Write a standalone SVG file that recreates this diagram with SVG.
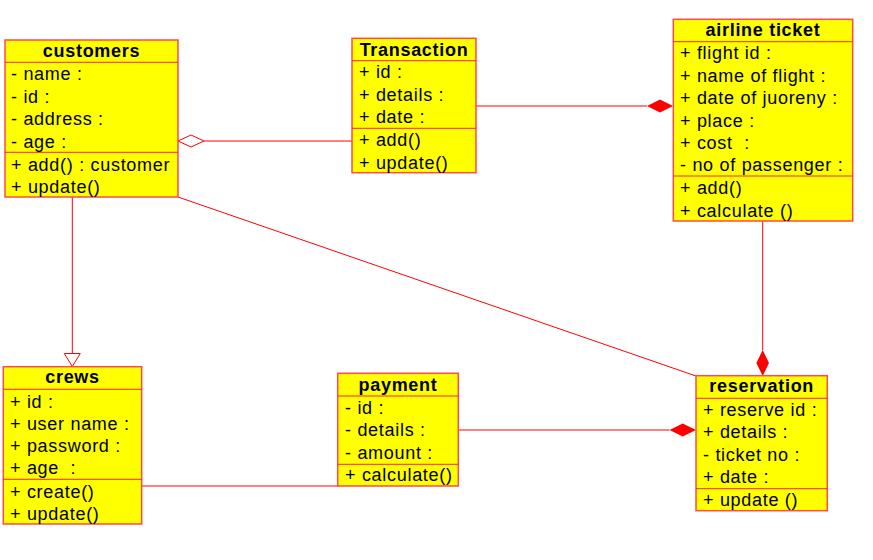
<svg xmlns="http://www.w3.org/2000/svg" width="873" height="560" viewBox="0 0 873 560">
<style>
.box{fill:#FFFF00;stroke:#FF4A4A;stroke-width:1.5}
.div{stroke:#FF2020;stroke-width:1}
.t{font-family:"Liberation Sans",Arial,sans-serif;font-size:18px;letter-spacing:0.7px;fill:#000}
.h{font-family:"Liberation Sans",Arial,sans-serif;font-size:18px;font-weight:bold;letter-spacing:0.7px;fill:#000;text-anchor:middle}
.c{stroke:#FF0000;stroke-width:1;fill:none}
</style>
<rect width="873" height="560" fill="#fff"/>
<g id="connectors">
<line class="c" x1="204" y1="141" x2="352" y2="141"/>
<polygon points="178,141 191,135 204,141 191,147" fill="#fff" stroke="#FF0000" stroke-width="1"/>
<line class="c" x1="476" y1="106" x2="647" y2="106"/>
<polygon points="647,106 660,99.5 673,106 660,112.5" fill="#FF0000"/>
<line class="c" x1="72.3" y1="197" x2="72.3" y2="353.5"/>
<polygon points="64.3,353.5 80.3,353.5 72.3,366.5" fill="#fff" stroke="#FF0000" stroke-width="1"/>
<line class="c" x1="178" y1="197" x2="696" y2="376"/>
<line class="c" x1="762.7" y1="221" x2="762.7" y2="350"/>
<polygon points="762.7,350 769,363 762.7,376 756.4,363" fill="#FF0000"/>
<line class="c" x1="458" y1="430" x2="669.5" y2="430"/>
<polygon points="669.5,430 682.7,423.5 696,430 682.7,436.5" fill="#FF0000"/>
<line class="c" x1="141.7" y1="486" x2="338" y2="486"/>
</g>
<g id="customers">
<rect class="box" x="5" y="40" width="173" height="157"/>
<line class="div" x1="5" y1="62.3" x2="178" y2="62.3"/>
<line class="div" x1="5" y1="152.3" x2="178" y2="152.3"/>
<text class="h" x="91.5" y="57">customers</text>
<text class="t" x="11" y="80">- name :</text>
<text class="t" x="11" y="102.5">- id :</text>
<text class="t" x="11" y="125">- address :</text>
<text class="t" x="11" y="148">- age :</text>
<text class="t" x="11" y="170.5">+ add() : customer</text>
<text class="t" x="11" y="192.5">+ update()</text>
</g>
<g id="transaction">
<rect class="box" x="352" y="38.3" width="124" height="134.4"/>
<line class="div" x1="352" y1="60.7" x2="476" y2="60.7"/>
<line class="div" x1="352" y1="128.3" x2="476" y2="128.3"/>
<text class="h" x="414" y="55.5">Transaction</text>
<text class="t" x="359" y="78">+ id :</text>
<text class="t" x="359" y="101">+ details :</text>
<text class="t" x="359" y="123">+ date :</text>
<text class="t" x="359" y="146">+ add()</text>
<text class="t" x="359" y="168.5">+ update()</text>
</g>
<g id="airline-ticket">
<rect class="box" x="673.3" y="19.3" width="179.4" height="201.7"/>
<line class="div" x1="673.3" y1="41.7" x2="852.7" y2="41.7"/>
<line class="div" x1="673.3" y1="176" x2="852.7" y2="176"/>
<text class="h" x="763" y="36">airline ticket</text>
<text class="t" x="680" y="59.3">+ flight id :</text>
<text class="t" x="680" y="81.7">+ name of flight :</text>
<text class="t" x="680" y="104.3">+ date of juoreny :</text>
<text class="t" x="680" y="126.7">+ place :</text>
<text class="t" x="680" y="149.3" xml:space="preserve">+ cost  :</text>
<text class="t" x="680" y="171">- no of passenger :</text>
<text class="t" x="680" y="194.3">+ add()</text>
<text class="t" x="680" y="216.7">+ calculate ()</text>
</g>
<g id="crews">
<rect class="box" x="3.3" y="366.7" width="138.4" height="157.3"/>
<line class="div" x1="3.3" y1="389.3" x2="141.7" y2="389.3"/>
<line class="div" x1="3.3" y1="479.3" x2="141.7" y2="479.3"/>
<text class="h" x="72.5" y="383">crews</text>
<text class="t" x="10" y="407.5">+ id :</text>
<text class="t" x="10" y="429.5">+ user name :</text>
<text class="t" x="10" y="452">+ password :</text>
<text class="t" x="10" y="474" xml:space="preserve">+ age  :</text>
<text class="t" x="10" y="497.5">+ create()</text>
<text class="t" x="10" y="519.5">+ update()</text>
</g>
<g id="payment">
<rect class="box" x="337.7" y="373.3" width="120.6" height="112.7"/>
<line class="div" x1="337.7" y1="396" x2="458.3" y2="396"/>
<line class="div" x1="337.7" y1="464.3" x2="458.3" y2="464.3"/>
<text class="h" x="398" y="391">payment</text>
<text class="t" x="345" y="414">- id :</text>
<text class="t" x="345" y="436">- details :</text>
<text class="t" x="345" y="459">- amount :</text>
<text class="t" x="345" y="481">+ calculate()</text>
</g>
<g id="reservation">
<rect class="box" x="696" y="375.7" width="131.3" height="135"/>
<line class="div" x1="696" y1="398.3" x2="827.3" y2="398.3"/>
<line class="div" x1="696" y1="488.7" x2="827.3" y2="488.7"/>
<text class="h" x="761.7" y="392">reservation</text>
<text class="t" x="703" y="416">+ reserve id :</text>
<text class="t" x="703" y="437.5">+ details :</text>
<text class="t" x="703" y="460.5">- ticket no :</text>
<text class="t" x="703" y="482.5">+ date :</text>
<text class="t" x="703" y="506">+ update ()</text>
</g>
</svg>
